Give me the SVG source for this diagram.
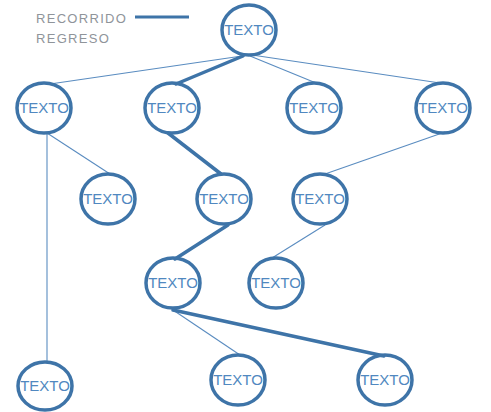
<svg xmlns="http://www.w3.org/2000/svg" width="491" height="412" viewBox="0 0 491 412">
<style>
.n ellipse{fill:none;stroke:#3e74a8;stroke-width:3.5}
.n text{font-family:"Liberation Sans",Arial,sans-serif;font-size:15px;fill:#5088c0;text-anchor:middle}
.thin{stroke:#5a8cc0;stroke-width:1.1;fill:none}
.thick{stroke:#3e74a8;stroke-width:3.5;fill:none;stroke-linecap:round}
.leg{font-family:"Liberation Sans",Arial,sans-serif;font-size:13px;fill:#8f949a;letter-spacing:1.3px}
</style>
<rect width="491" height="412" fill="#ffffff"/>
<g id="legend">
<text class="leg" x="36" y="23">RECORRIDO</text>
<text class="leg" x="36" y="43">REGRESO</text>
<line x1="135" y1="17" x2="189" y2="17" stroke="#3e74a8" stroke-width="3"/>
</g>
<g id="connectors">
<line class="thin" x1="242" y1="56" x2="50" y2="84"/>
<line class="thick" x1="243" y1="56" x2="176" y2="84"/>
<line class="thin" x1="250" y1="56" x2="316" y2="83"/>
<line class="thin" x1="252" y1="55" x2="440" y2="83"/>
<line class="thin" x1="47" y1="133" x2="47" y2="363" stroke="#8aa6c4"/>
<line class="thin" x1="47" y1="133" x2="110" y2="174"/>
<line class="thick" x1="168" y1="133" x2="221" y2="174"/>
<line class="thin" x1="445" y1="132" x2="325" y2="174"/>
<line class="thick" x1="228" y1="225" x2="175" y2="259"/>
<line class="thin" x1="325" y1="225" x2="272" y2="258"/>
<line class="thin" x1="173" y1="310" x2="240" y2="355"/>
<line class="thick" x1="173" y1="310" x2="384" y2="356"/>
</g>
<g id="root" class="n"><ellipse cx="249" cy="30" rx="27" ry="25"/><text x="249" y="35">TEXTO</text></g>
<g id="n1" class="n"><ellipse cx="44" cy="108" rx="27" ry="25"/><text x="44" y="113">TEXTO</text></g>
<g id="n2" class="n"><ellipse cx="172" cy="108" rx="27" ry="25"/><text x="172" y="113">TEXTO</text></g>
<g id="n3" class="n"><ellipse cx="314" cy="108" rx="27" ry="25"/><text x="314" y="113">TEXTO</text></g>
<g id="n4" class="n"><ellipse cx="443" cy="108" rx="27" ry="25"/><text x="443" y="113">TEXTO</text></g>
<g id="n5" class="n"><ellipse cx="108" cy="199" rx="27" ry="25"/><text x="108" y="204">TEXTO</text></g>
<g id="n6" class="n"><ellipse cx="224" cy="199" rx="27" ry="25"/><text x="224" y="204">TEXTO</text></g>
<g id="n7" class="n"><ellipse cx="320" cy="199" rx="27" ry="25"/><text x="320" y="204">TEXTO</text></g>
<g id="n8" class="n"><ellipse cx="173" cy="283" rx="27" ry="25"/><text x="173" y="288">TEXTO</text></g>
<g id="n9" class="n"><ellipse cx="276" cy="283" rx="27" ry="25"/><text x="276" y="288">TEXTO</text></g>
<g id="n10" class="n"><ellipse cx="45" cy="386" rx="27" ry="24"/><text x="45" y="391">TEXTO</text></g>
<g id="n11" class="n"><ellipse cx="238" cy="380" rx="27" ry="25"/><text x="238" y="385">TEXTO</text></g>
<g id="n12" class="n"><ellipse cx="385" cy="380" rx="27" ry="25"/><text x="385" y="385">TEXTO</text></g>
</svg>
